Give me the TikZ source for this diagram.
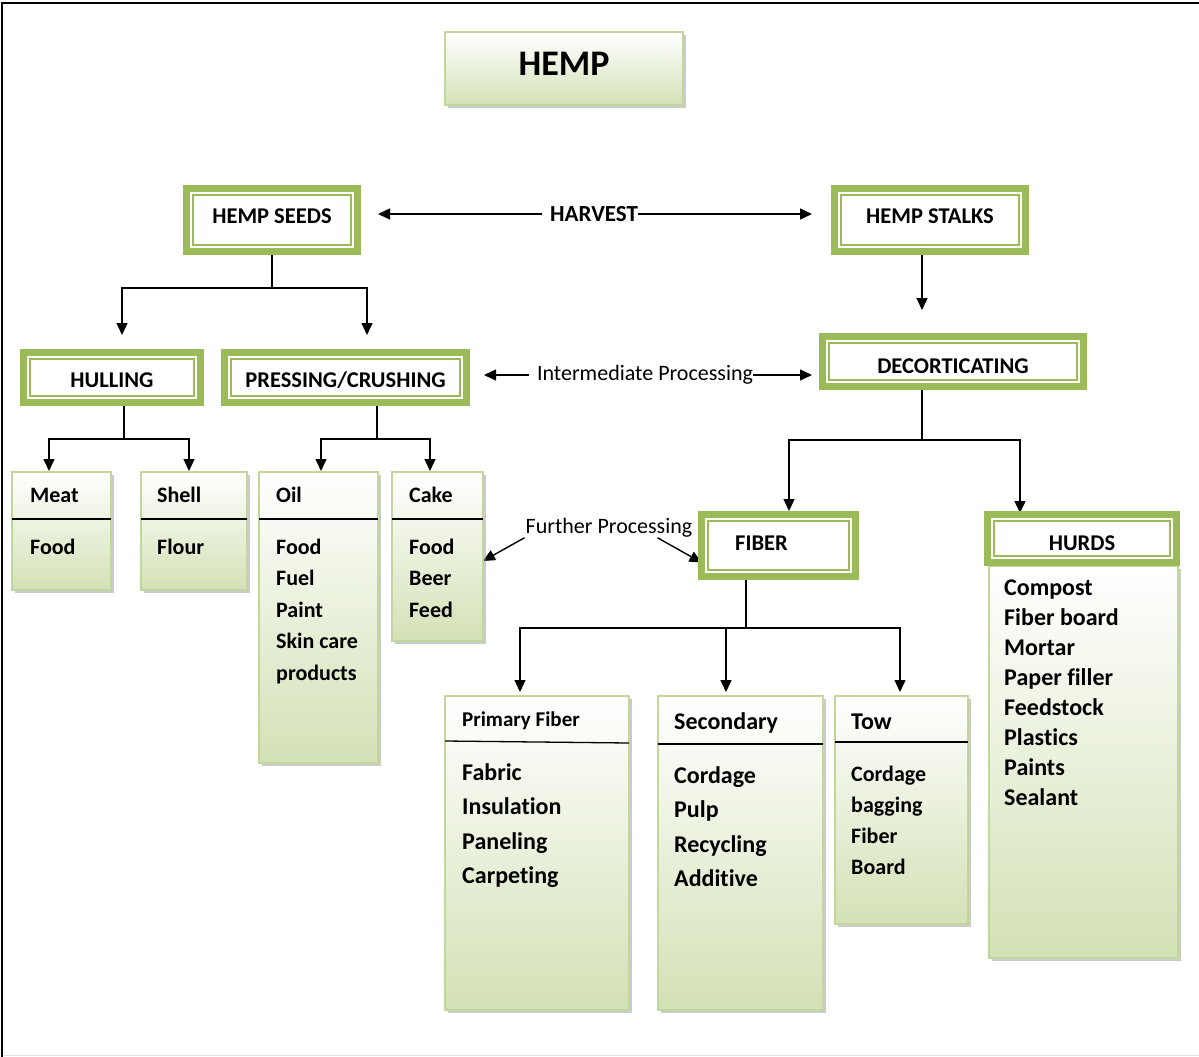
\documentclass[tikz,border=0pt]{standalone}
\usepackage{fontspec}
\setmainfont{Carlito}[Ligatures=NoCommon]
\usetikzlibrary{arrows.meta,shadows}
\definecolor{hgreen}{HTML}{9BBB59}
\definecolor{hfill}{HTML}{D3E1B6}
\definecolor{hborder}{HTML}{C3D69B}
\newcommand\myfs[1]{\fontsize{#1}{#1}\selectfont}
\newcommand\vmove[2]{\raisebox{#1}[\height][\depth]{#2}}
\pgfdeclarelayer{background}
\pgfsetlayers{background,main}
\begin{document}
\begin{tikzpicture}[x=1pt,y=-1pt,
  dbox/.style={draw=hgreen, line width=7pt, fill=white, inner sep=0pt, outer sep=0pt,
    anchor=north west, xshift=3.5pt, yshift=-3.5pt, font=\bfseries\myfs{22.5},
    path picture={\draw[hgreen,line width=2pt]
      ([shift={(6.5pt,-6.5pt)}]path picture bounding box.north west) rectangle
      ([shift={(-6.5pt,6.5pt)}]path picture bounding box.south east);}},
  lbox/.style={draw=hborder, line width=1.2pt, top color=white, bottom color=hfill,
    anchor=north west, inner sep=0pt, outer sep=0pt,
    drop shadow={shadow xshift=3pt, shadow yshift=-3pt, fill=black!45, opacity=.45}},
  hd/.style={anchor=base west, inner sep=0pt, font=\bfseries\myfs{22}},
  it/.style={anchor=base west, inner sep=0pt, font=\bfseries\myfs{22}},
  itb/.style={anchor=base west, inner sep=0pt, font=\bfseries\myfs{24}},
  div/.style={line width=1.3pt, black},
  ln/.style={line width=1.4pt},
  arr/.style={line width=1.4pt, -{Triangle[length=12pt,width=11pt]}},
  lab/.style={inner sep=0pt, font=\myfs{22}},
]
\useasboundingbox (0,0) rectangle (1199,1057);
\draw[line width=2pt] (2,1057) -- (2,3) -- (1199,3);
\draw[black!12, line width=1pt] (4,1055) -- (1199,1055);

% title
\node[lbox, minimum width=238pt, minimum height=73pt, font=\bfseries\myfs{36}] (hemp) at (445,32) {\vmove{4.5pt}{HEMP}};

% double-border boxes
\node[dbox, minimum width=171pt, minimum height=63pt] (seeds) at (183,185) {\vmove{4pt}{HEMP SEEDS}};
\node[dbox, minimum width=191pt, minimum height=63pt] (stalks) at (831,185) {\vmove{4pt}{HEMP STALKS}};
\node[dbox, minimum width=177pt, minimum height=50pt] (hull) at (20,349) {\vmove{-2.5pt}{HULLING}};
\node[dbox, minimum width=242pt, minimum height=50pt] (press) at (221,349) {\vmove{-2.5pt}{PRESSING/CRUSHING}};
\node[dbox, minimum width=261pt, minimum height=50pt] (decort) at (819,333) {\vmove{-4.5pt}{DECORTICATING}};
\node[dbox, minimum width=154pt, minimum height=62pt] (fiber) at (698,511) {\vmove{2.5pt}{FIBER}\hspace*{34pt}};

% labels
\node[lab, font=\bfseries\myfs{23}] (harvest) at (594,214) {HARVEST};
\node[lab] (interm) at (645,375) {Intermediate Processing};
\node[lab] (further) at (609,528) {Further Processing};

% list boxes
\node[lbox, minimum width=99pt, minimum height=118pt] (meat) at (12,472) {};
\node[lbox, minimum width=106pt, minimum height=118pt] (shell) at (141,472) {};
\node[lbox, minimum width=119pt, minimum height=291pt] (oil) at (259,472) {};
\node[lbox, minimum width=91pt, minimum height=169pt] (cake) at (392,472) {};
\node[lbox, minimum width=184pt, minimum height=314pt] (prim) at (445,696) {};
\node[lbox, minimum width=165pt, minimum height=314pt] (sec) at (658,696) {};
\node[lbox, minimum width=133pt, minimum height=228pt] (tow) at (835,696) {};
\node[lbox, minimum width=189pt, minimum height=392pt] (hurds) at (989,566) {};
\node[dbox, minimum width=189pt, minimum height=48pt] (hurdshead) at (984,511) {\vmove{-4.5pt}{HURDS}};

% dividers
\draw[div] ([yshift=-47pt]meat.north west) -- ([yshift=-47pt]meat.north east);
\draw[div] ([yshift=-47pt]shell.north west) -- ([yshift=-47pt]shell.north east);
\draw[div] ([yshift=-47pt]oil.north west) -- ([yshift=-47pt]oil.north east);
\draw[div] ([yshift=-47pt]cake.north west) -- ([yshift=-47pt]cake.north east);
\draw[div] ([yshift=-45pt]prim.north west) -- ([yshift=-47pt]prim.north east);
\draw[div] ([yshift=-48pt]sec.north west) -- ([yshift=-48pt]sec.north east);
\draw[div] ([yshift=-46pt]tow.north west) -- ([yshift=-46pt]tow.north east);

% headers
\node[hd] (meat-h) at (30,502) {Meat};
\node[hd] (shell-h) at (157,502) {Shell};
\node[hd] (oil-h) at (276,502) {Oil};
\node[hd] (cake-h) at (409,502) {Cake};
\node[hd, font=\bfseries\myfs{21}] (prim-h) at (462,726) {Primary Fiber};
\node[hd, font=\bfseries\myfs{24}] (sec-h) at (674,729) {Secondary};
\node[hd, font=\bfseries\myfs{24}] (tow-h) at (851,729) {Tow};

% items
\node[it] (meat-1) at (30,554) {Food};
\node[it] (shell-1) at (157,554) {Flour};
\foreach \t [count=\i] in {Food,Fuel,Paint,Skin care,products}
  \node[it] (oil-\i) at (276,{554+31.5*(\i-1)}) {\t};
\foreach \t [count=\i] in {Food,Beer,Feed}
  \node[it] (cake-\i) at (409,{554+31.5*(\i-1)}) {\t};
\foreach \t [count=\i] in {Fabric,Insulation,Paneling,Carpeting}
  \node[itb] (prim-\i) at (462,{780+34.5*(\i-1)}) {\t};
\foreach \t [count=\i] in {Cordage,Pulp,Recycling,Additive}
  \node[itb] (sec-\i) at (674,{783+34.5*(\i-1)}) {\t};
\foreach \t [count=\i] in {Cordage,bagging,Fiber,Board}
  \node[it] (tow-\i) at (851,{781+31.3*(\i-1)}) {\t};
\foreach \t [count=\i] in {Compost,Fiber board,Mortar,Paper filler,Feedstock,Plastics,Paints,Sealant}
  \node[itb] (hurds-\i) at (1004,{595+30*(\i-1)}) {\t};

% connectors
\begin{pgfonlayer}{background}
\coordinate (sj) at (272,288);
\coordinate (hullin) at (122,335);
\coordinate (pressin) at (367,335);
\draw[ln] (seeds.south) -- (sj);
\draw[arr] (sj) -| (hullin);
\draw[arr] (sj) -| (pressin);

\coordinate (harvL) at (378,214);
\coordinate (harvR) at (812,214);
\draw[arr] ([xshift=-8pt]harvest.west) -- (harvL);
\draw[arr] (harvest.east) -- (harvR);

\coordinate (decin) at (922,310);
\draw[arr] (stalks.south -| decin) -- (decin);

\coordinate (intL) at (484,375);
\coordinate (intR) at (812,375);
\draw[arr] ([xshift=-8pt]interm.west) -- (intL);
\draw[arr] (interm.east) -- (intR);

\coordinate (hj) at (124,439);
\coordinate (meatin) at (49,471);
\coordinate (shellin) at (189,471);
\draw[ln] (hull.south -| hj) -- (hj);
\draw[arr] (hj) -| (meatin);
\draw[arr] (hj) -| (shellin);

\coordinate (pj) at (377,439);
\coordinate (oilin) at (321,471);
\coordinate (cakein) at (430,471);
\draw[ln] (press.south -| pj) -- (pj);
\draw[arr] (pj) -| (oilin);
\draw[arr] (pj) -| (cakein);

\coordinate (dj) at (922,440);
\coordinate (fiberin) at (789,511);
\coordinate (hurdsin) at (1020,513);
\draw[ln] (decort.south -| dj) -- (dj);
\draw[arr] (dj) -| (fiberin);
\draw[arr] (dj) -| (hurdsin);

\draw[arr] ([xshift=-1pt]further.south west) -- ([yshift=-4.5pt]cake.east);
\draw[arr] ([xshift=-35pt]further.south east) -- ([yshift=-17pt]fiber.west);

\coordinate (fj) at (746,628);
\coordinate (primin) at (520,692);
\coordinate (secin) at (726,692);
\coordinate (towin) at (900,692);
\draw[ln] (fiber.south -| fj) -- (fj);
\draw[arr] (fj) -| (primin);
\draw[arr] (fj) -- (secin |- fj) -- (secin);
\draw[arr] (fj) -| (towin);
\end{pgfonlayer}
\end{tikzpicture}
\end{document}
